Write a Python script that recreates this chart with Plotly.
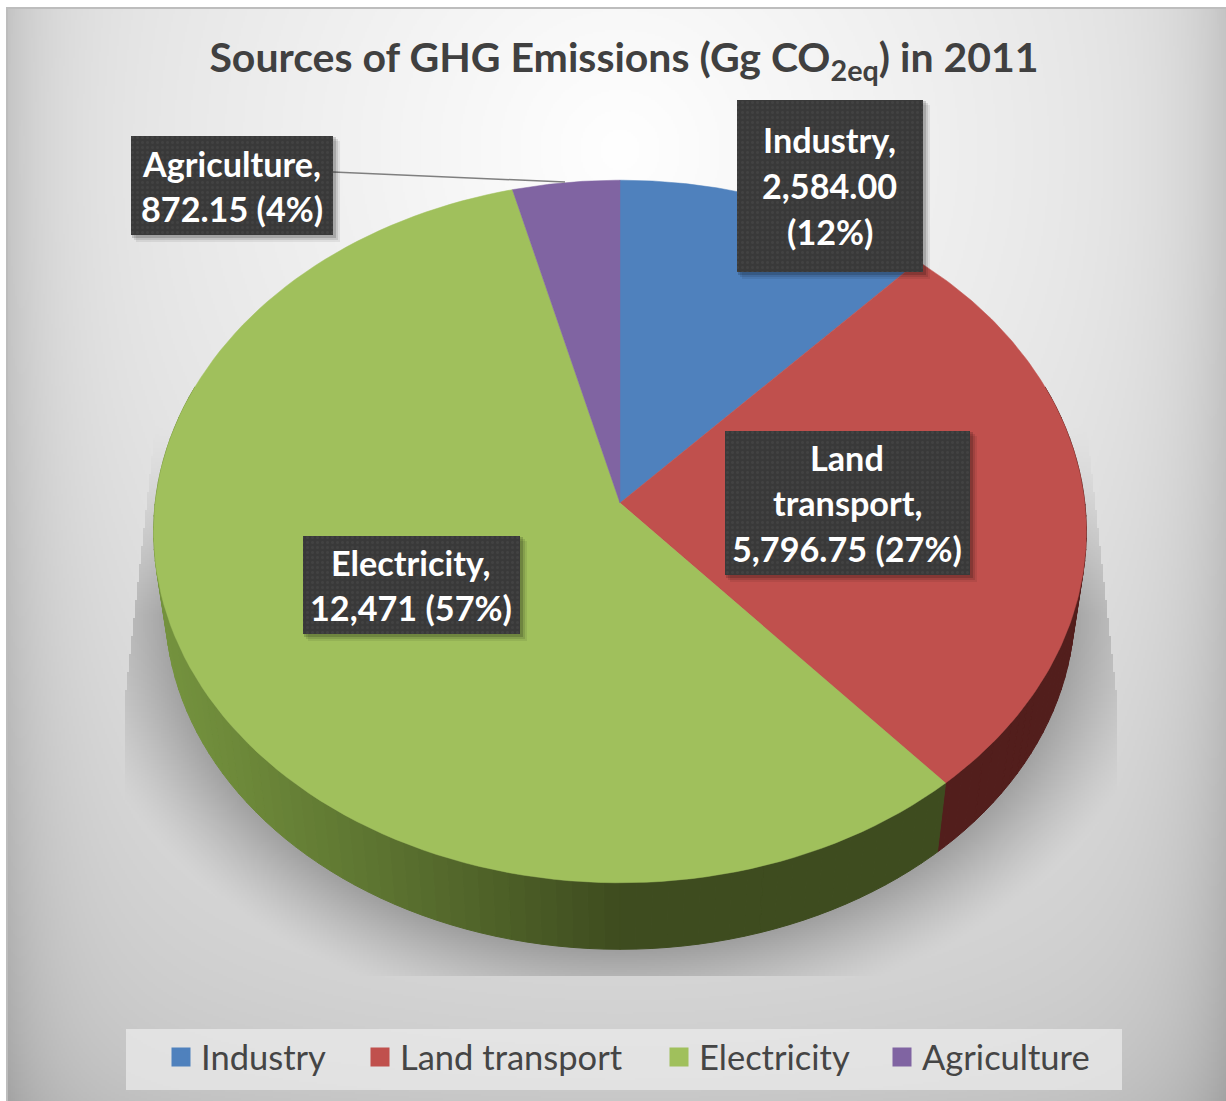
import numpy as np
import plotly.graph_objects as go

# --- data ---
categories = ["Industry", "Land transport", "Electricity", "Agriculture"]
values = [2584.00, 5796.75, 12471.0, 872.15]
percent_labels = ["12%", "27%", "57%", "4%"]
colors = ["#4F81BD", "#C0504D", "#A0C05C", "#8064A2"]
title_text = "Sources of GHG Emissions (Gg CO<sub>2eq</sub>) in 2011"
label_lines = [
    ["Industry,", "2,584.00", "(12%)"],
    ["Land", "transport,", "5,796.75 (27%)"],
    ["Electricity,", "12,471 (57%)"],
    ["Agriculture,", "872.15 (4%)"],
]
# label boxes: x0, x1, y0, y1 (page layout)
label_boxes = [(737, 923, 100, 272), (725, 970, 431, 575), (303, 520, 536, 634), (131, 333, 136, 235)]
label_line_y = [[139, 185, 231], [457, 502, 548], [562, 607], [163, 208]]
leader_x = [333, 565]
leader_y = [172, 182]

W, H = 1226, 1101
CX, CY, A, B, K = 620.0, 503.0, 464.8, 349.0, 0.0811
RIM_S, RIM_CY = 0.975, 579.0


def top_face(theta):
    w = 1 + K * np.cos(theta)
    return CX + A * np.sin(theta) / w, CY - B * np.cos(theta) / w


def low_face(theta):
    u, v = top_face(theta)
    return CX + RIM_S * (u - CX), RIM_CY + RIM_S * (v - CY)


# --- background gradient and soft shadow ---
gx = np.arange(8, W + 2, 2.0)
gy = np.arange(9, H + 2, 2.0)
XX, YY = np.meshgrid(gx, gy)
dist = np.hypot(XX - 620, YY - 150)
gray = 255 - 0.05 * dist
edge = np.minimum(XX - 7, W - XX)
gray -= 28 * np.exp(-edge / 45)
gray -= 8 * np.exp(-(H - YY) / 60)
rho = np.hypot((XX - 620) / 455, (YY - 607) / 343)
d = np.maximum((rho - 1) * 400, 0)
alpha = np.clip(1 - d / 90, 0, 1) ** 1.3
alpha *= np.clip((YY - 425) / 190, 0, 1)
inset = np.clip((700 - YY) / 270, 0, 1) * 30
alpha *= ((XX >= 125 + inset) & (XX <= 1117 - inset) & (YY <= 976))
gray -= 56 * alpha
z = np.clip(gray, 0, 255).astype(np.uint8)

fig = go.Figure()
fig.add_trace(go.Heatmap(x=gx, y=gy, z=z, zmin=0, zmax=255, showscale=False, hoverinfo="skip",
                         colorscale=[[0, "rgb(0,0,0)"], [1, "rgb(255,255,255)"]]))


def rim_color(theta):
    u, _ = top_face(theta)
    frac = float(np.clip((u - 165) / (620 - 165), 0, 1))
    c0, c1 = np.array([116, 146, 62]), np.array([62, 76, 31])
    c = c0 + (c1 - c0) * frac ** 1.1
    return "rgb(%d,%d,%d)" % tuple(c)


# --- slice angles from the data ---
fractions = np.array(values) / np.sum(values)
edges = 2 * np.pi * np.concatenate([[0], np.cumsum(fractions)])

# --- rim ---
red_lo, red_hi = edges[1], edges[2]
rim_start, rim_end = np.radians(70), np.radians(290)
steps = np.sort(np.r_[np.linspace(rim_start, rim_end, 121), red_hi])
for t0, t1 in zip(steps[:-1], steps[1:]):
    tm = 0.5 * (t0 + t1)
    if red_lo <= tm < red_hi:
        col = "#521E1C"
    else:
        col = rim_color(tm)
    x0, y0 = top_face(np.array([t0, t1]))
    x1, y1 = low_face(np.array([t1, t0]))
    fig.add_trace(go.Scatter(x=np.r_[x0, x1, x0[0]], y=np.r_[y0, y1, y0[0]], mode="lines", fill="toself",
                             fillcolor=col, line=dict(color=col, width=1), hoverinfo="skip", showlegend=False))

# --- top faces ---
for i, name in enumerate(categories):
    th = np.linspace(edges[i], edges[i + 1], 120)
    px, py = top_face(th)
    fig.add_trace(go.Scatter(x=np.r_[CX, px, CX], y=np.r_[CY, py, CY], mode="lines", fill="toself",
                             fillcolor=colors[i], line=dict(color=colors[i], width=0.5),
                             name=name, showlegend=False, hoverinfo="skip"))

# --- leader line ---
fig.add_trace(go.Scatter(x=leader_x, y=leader_y, mode="lines", line=dict(color="#7f7f7f", width=1.5),
                         hoverinfo="skip", showlegend=False))

# --- label boxes, shadows, text ---
annotations = []
for (x0, x1, y0, y1), lines, ys in zip(label_boxes, label_lines, label_line_y):
    for off, op in [(7, 0.07), (5, 0.10), (3, 0.16)]:
        fig.add_trace(go.Scatter(x=[x0 + off - 2, x1 + off, x1 + off, x0 + off - 2, x0 + off - 2],
                                 y=[y0 + off - 2, y0 + off - 2, y1 + off, y1 + off, y0 + off - 2],
                                 mode="lines", fill="toself", fillcolor=f"rgba(0,0,0,{op})",
                                 line=dict(width=0), hoverinfo="skip", showlegend=False))
    fig.add_trace(go.Scatter(x=[x0, x1, x1, x0, x0], y=[y0, y0, y1, y1, y0], mode="lines", fill="toself",
                             fillcolor="#3A3A3A", line=dict(width=0), hoverinfo="skip", showlegend=False,
                             fillpattern=dict(shape=".", bgcolor="#393939", fgcolor="#4C4C4C", size=5, solidity=0.25)))
    for line, y in zip(lines, ys):
        annotations.append(dict(x=(x0 + x1 - 1) / 2, y=y, xref="x", yref="y", text=line, showarrow=False,
                                xanchor="center", yanchor="middle",
                                font=dict(family="Lato", size=34.2, color="#FFFFFF", weight="bold")))

# --- legend ---
legend_x = [161, 360, 659, 882]
legend_cfg = {}
for i, name in enumerate(categories):
    key = "legend" if i == 0 else f"legend{i + 1}"
    fig.add_trace(go.Scatter(x=[None], y=[None], mode="markers", name=name, legend=key,
                             marker=dict(symbol="square", size=20, color=colors[i],
                                         line=dict(color=colors[i], width=3)), hoverinfo="skip"))
    legend_cfg[key] = dict(x=legend_x[i] / W, y=1 - 1057 / H, xanchor="left", yanchor="middle", orientation="h",
                           bgcolor="rgba(0,0,0,0)", font=dict(family="Lato", size=34.5, color="#454545"),
                           itemwidth=30, itemclick=False, itemdoubleclick=False)

shapes = [
    dict(type="rect", xref="x", yref="y", x0=126, x1=1122, y0=1029, y1=1090, fillcolor="rgba(235,235,235,0.72)",
         line=dict(width=0), layer="above"),
    dict(type="line", xref="x", yref="y", x0=6, x1=W, y0=8, y1=8, line=dict(color="#BDBDBD", width=2)),
    dict(type="line", xref="x", yref="y", x0=7, x1=7, y0=8, y1=H, line=dict(color="#BDBDBD", width=2)),
]

fig.update_layout(
    width=W, height=H, margin=dict(l=0, r=0, t=0, b=0), paper_bgcolor="white", plot_bgcolor="white",
    xaxis=dict(range=[0, W], visible=False, fixedrange=True),
    yaxis=dict(range=[H, 0], visible=False, fixedrange=True),
    title=dict(text=title_text, x=624 / W, xanchor="center", y=1 - 58 / H, yanchor="middle",
               font=dict(family="Lato", size=41, color="#404040", weight="bold")),
    annotations=annotations, shapes=shapes, **legend_cfg,
)
fig.write_html("out.html", config={"displayModeBar": False},
               post_script="document.body.style.margin='0';document.documentElement.style.overflow='hidden';")
